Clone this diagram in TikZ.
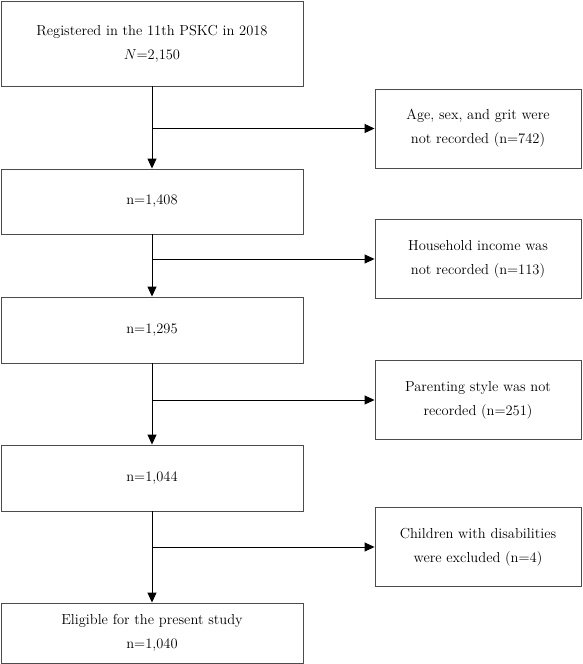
\documentclass[tikz,border=0pt]{standalone}
\usepackage{amsmath}
\usepackage{tikz}
\usetikzlibrary{arrows.meta}

\begin{document}
\begin{tikzpicture}[x=1pt,y=-1pt,
  box/.style={draw=black!70,line width=0.9pt,align=center,inner sep=0pt,font=\fontsize{14.5}{24}\selectfont},
  mainbox/.style={box,minimum width=302pt},
  sidebox/.style={box,minimum width=206pt,minimum height=79pt},
  flow/.style={draw=black,line width=0.9pt,-{Triangle[width=9pt,length=10pt]}}]
\useasboundingbox (0,0) rectangle (583,664);

% main column
\node[mainbox,minimum height=85pt] (reg) at (152,43.5) {Registered in the 11th PSKC in 2018\\$N$=2,150};
\node[mainbox,minimum height=65pt] (n1) at (152,201.5) {n=1,408};
\node[mainbox,minimum height=66pt] (n2) at (152,330) {n=1,295};
\node[mainbox,minimum height=66pt] (n3) at (152,478) {n=1,044};
\node[mainbox,minimum height=60pt] (elig) at (152,633) {Eligible for the present study\\n=1,040};

% exclusions
\node[sidebox] (ex1) at (478,128.5) {Age, sex, and grit were\\not recorded (n=742)};
\node[sidebox] (ex2) at (478,259) {Household income was\\not recorded (n=113)};
\node[sidebox] (ex3) at (478,400) {Parenting style was not\\recorded (n=251)};
\node[sidebox] (ex4) at (478,547) {Children with disabilities\\were excluded (n=4)};

\draw[flow] (reg.south) -- (n1.north);
\draw[flow] (n1.south) -- (n2.north);
\draw[flow] (n2.south) -- (n3.north);
\draw[flow] (n3.south) -- (elig.north);

\draw[flow] (reg.south |- ex1.west) -- (ex1.west);
\draw[flow] (n1.south |- ex2.west) -- (ex2.west);
\draw[flow] (n2.south |- ex3.west) -- (ex3.west);
\draw[flow] (n3.south |- ex4.west) -- (ex4.west);
\end{tikzpicture}
\end{document}
